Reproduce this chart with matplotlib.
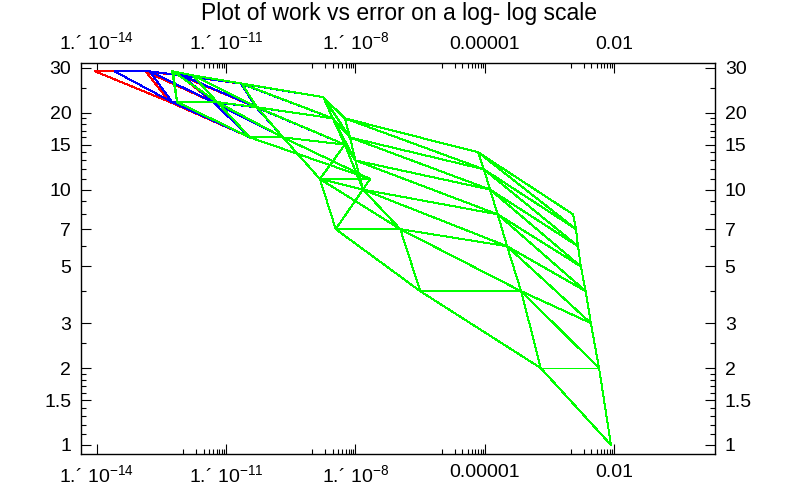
import matplotlib.pyplot as plt
from matplotlib.ticker import FixedLocator, NullFormatter

plt.rcParams["font.family"] = ["Liberation Sans", "DejaVu Sans"]
plt.rcParams["mathtext.fontset"] = "custom"
plt.rcParams["mathtext.rm"] = "Liberation Sans"
plt.rcParams["mathtext.it"] = "Liberation Sans"
plt.rcParams["mathtext.default"] = "regular"

# work of each tableau entry T(i, j), one list per row i
work_rows = [
    [1],
    [2, 2],
    [3, 4, 4],
    [4, 6, 7, 7],
    [5, 8, 10, 11, 11],
    [6, 10, 13, 15, 16, 16],
    [7, 12, 16, 19, 21, 22, 22],
    [8, 14, 19, 23, 26, 28, 29, 29],
]

# error of each entry, working precision (green)
err_green = [
    [8.5e-3],
    [4.5e-3, 2.0e-4],
    [2.9e-3, 7.0e-5, 3.2e-7],
    [2.2e-3, 3.3e-5, 1.1e-7, 3.5e-9],
    [1.7e-3, 2.0e-5, 1.5e-8, 1.5e-9, 2.2e-8],
    [1.46e-3, 1.33e-5, 1.0e-8, 5.7e-9, 2.1e-10, 3.6e-11],
    [1.31e-3, 9.6e-6, 7.5e-9, 3.0e-9, 5.2e-11, 6.2e-12, 7.3e-13],
    [1.12e-3, 7.0e-6, 5.7e-9, 1.8e-9, 2.3e-11, 1.7e-12, 5.9e-13, 5.6e-13],
]

# upper rows (7, 8) where the higher precision runs differ
err_blue_top = [
    [1.31e-3, 9.6e-6, 7.5e-9, 3.0e-9, 5.0e-11, 5.0e-12, 5.6e-13],
    [1.12e-3, 7.0e-6, 5.7e-9, 1.8e-9, 2.2e-11, 9.5e-13, 1.7e-13, 2.6e-14],
]
err_red_top = [
    [1.31e-3, 9.6e-6, 7.5e-9, 3.0e-9, 5.0e-11, 5.0e-12, 5.0e-13],
    [1.12e-3, 7.0e-6, 5.7e-9, 1.8e-9, 2.2e-11, 8.5e-13, 1.36e-13, 9.3e-15],
]

x_major = [1e-14, 1e-11, 1e-8, 1e-5, 1e-2]
x_labels = ["1.\u00b4 10$^{-14}$", "1.\u00b4 10$^{-11}$", "1.\u00b4 10$^{-8}$",
            "0.00001", "0.01"]
y_major = [1, 1.5, 2, 3, 5, 7, 10, 15, 20, 30]
y_labels = ["1", "1.5", "2", "3", "5", "7", "10", "15", "20", "30"]
y_minor = [1.1, 1.2, 1.3, 1.4, 1.6, 1.7, 1.8, 1.9, 2.5, 4, 6, 8, 9,
           11, 12, 13, 14, 16, 17, 18, 19, 25]


def draw_tableau(ax, err, color, lw):
    n = len(err)
    kw = dict(color=color, lw=lw, antialiased=False)
    # rows
    for i in range(n):
        ax.plot(err[i], work_rows[i], **kw)
    # columns
    for j in range(n):
        xs = [err[i][j] for i in range(j, n)]
        ys = [work_rows[i][j] for i in range(j, n)]
        ax.plot(xs, ys, **kw)
    # diagonals
    for start in range(n):
        xs = [err[start + k][k] for k in range(n - start)]
        ys = [work_rows[start + k][k] for k in range(n - start)]
        ax.plot(xs, ys, **kw)


fig = plt.figure(figsize=(7.98, 4.94), dpi=100)
ax = fig.add_axes([81 / 798, 40 / 494, 634 / 798, 391 / 494])
ax.set_xscale("log")
ax.set_yscale("log")

draw_tableau(ax, err_green[:6] + err_red_top, "#ff0000", 0.7)
draw_tableau(ax, err_green[:6] + err_blue_top, "#0000ff", 0.7)
draw_tableau(ax, err_green, "#00ff00", 0.7)

ax.set_xlim(10 ** -14.366, 10 ** 0.343)
ax.set_ylim(0.922, 31.3)

x_minor = [k * m / 10 for m in x_major[1:] for k in range(1, 10)]
ax.xaxis.set_major_locator(FixedLocator(x_major))
ax.xaxis.set_minor_locator(FixedLocator(x_minor))
ax.xaxis.set_minor_formatter(NullFormatter())
ax.set_xticklabels(x_labels)
ax.yaxis.set_major_locator(FixedLocator(y_major))
ax.yaxis.set_minor_locator(FixedLocator(y_minor))
ax.yaxis.set_minor_formatter(NullFormatter())
ax.set_yticklabels(y_labels)

ax.tick_params(which="both", direction="in", top=True, right=True,
               labeltop=True, labelright=True, labelsize=14, pad=7,
               width=0.8, color="black")
ax.tick_params(which="major", length=7)
ax.tick_params(which="minor", length=3.5)
for s in ax.spines.values():
    s.set_linewidth(1.0)

fig.suptitle("Plot of work vs error on a log- log scale", y=0.995,
             fontsize=16.5)
fig.savefig("out.png", dpi=100)
